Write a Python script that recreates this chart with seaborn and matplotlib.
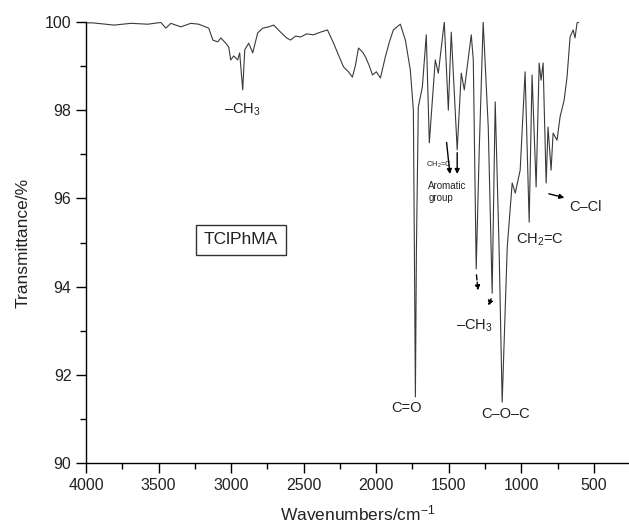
import numpy as np
import matplotlib
matplotlib.use("Agg")
import matplotlib.pyplot as plt
import seaborn as sns

# --- data ---
wavenumber = [3990, 3952, 3807, 3690, 3574, 3484, 3450, 3415, 3347, 3278,
              3223, 3154, 3126, 3092, 3071, 3037, 3016, 3003, 2982, 2955,
              2941, 2920, 2906, 2879, 2851, 2817, 2783, 2741, 2707, 2659,
              2618, 2590, 2556, 2521, 2480, 2432, 2384, 2336, 2294, 2260,
              2225, 2191, 2164, 2143, 2122, 2095, 2074, 2047, 2026, 1999,
              1971, 1937, 1909, 1882, 1834, 1799, 1765, 1744, 1737, 1730,
              1723, 1710, 1682, 1655, 1634, 1613, 1593, 1572, 1531, 1503,
              1483, 1442, 1414, 1393, 1345, 1331, 1311, 1290, 1263, 1228,
              1201, 1180, 1153, 1132, 1097, 1063, 1042, 1008, 974, 946,
              926, 898, 877, 864, 850, 829, 816, 795, 781, 754,
              733, 705, 685, 664, 643, 630, 616, 602]
transmittance = [99.98, 99.98, 99.93, 99.97, 99.95, 99.99, 99.86, 99.97, 99.89, 99.97,
                 99.95, 99.86, 99.59, 99.55, 99.64, 99.52, 99.43, 99.14, 99.23, 99.14,
                 99.30, 98.46, 99.37, 99.52, 99.30, 99.75, 99.86, 99.89, 99.93, 99.77,
                 99.64, 99.59, 99.68, 99.66, 99.73, 99.71, 99.77, 99.82, 99.52, 99.25,
                 98.98, 98.87, 98.75, 99.02, 99.41, 99.32, 99.21, 99.00, 98.80, 98.87,
                 98.73, 99.21, 99.55, 99.82, 99.95, 99.59, 98.91, 98.00, 94.83, 91.50,
                 94.83, 98.07, 98.53, 99.71, 97.26, 98.23, 99.14, 98.84, 100.0, 98.00,
                 99.77, 97.10, 98.84, 98.46, 99.71, 99.14, 94.40, 97.10, 100.0, 97.62,
                 93.85, 98.19, 94.83, 91.38, 94.90, 96.35, 96.12, 96.64, 98.87, 95.46,
                 98.80, 96.26, 99.07, 98.68, 99.07, 96.35, 97.62, 96.64, 97.48, 97.32,
                 97.85, 98.23, 98.75, 99.66, 99.82, 99.64, 99.98, 100.0]

x_ticks = [4000, 3500, 3000, 2500, 2000, 1500, 1000, 500]
y_ticks = [90, 92, 94, 96, 98, 100]

# band labels: (text, wavenumber, transmittance, fontsize)
band_labels = [
    ("\u2013CH$\\mathregular{_3}$", 2925, 98.02, 10.5),
    ("C=O", 1792, 91.25, 10.5),
    ("C\u2013O\u2013C", 1111, 91.1, 10.5),
    ("\u2013CH$\\mathregular{_3}$", 1325, 93.1, 10.5),
    ("CH$\\mathregular{_2}$=C", 871, 95.05, 10.5),
    ("C\u2013Cl", 561, 95.8, 10.5),
]

sns.set_style("ticks")
plt.rcParams["font.family"] = ["Liberation Sans", "DejaVu Sans"]
plt.rcParams["mathtext.fontset"] = "custom"
plt.rcParams["mathtext.rm"] = "Liberation Sans"
plt.rcParams["mathtext.it"] = "Liberation Sans:italic"

fig = plt.figure(figsize=(6.29, 5.30), dpi=100)
ax = fig.add_axes([86 / 629, 1 - 463 / 530, 1 - 86 / 629, 441 / 530])

sns.lineplot(x=wavenumber, y=transmittance, ax=ax, sort=False, estimator=None,
             color="#3a3a3a", linewidth=0.8)

ax.set_xlim(4000, 258)
ax.set_ylim(90, 100)
ax.set_xticks(x_ticks)
ax.set_yticks(y_ticks)
ax.set_xticks(np.arange(3750, 258, -500), minor=True)
ax.set_yticks([91, 93, 95, 97, 99], minor=True)
ax.tick_params(which="major", direction="out", length=7, width=1, labelsize=11.5,
               color="black", labelcolor="#222222")
ax.tick_params(which="minor", direction="out", length=4, width=1, color="black")
for s in ["top", "right"]:
    ax.spines[s].set_visible(False)
for s in ["left", "bottom"]:
    ax.spines[s].set_linewidth(1)
    ax.spines[s].set_color("black")

ax.set_xlabel("Wavenumbers/cm$\\mathregular{^{\u22121}}$", fontsize=12.5, labelpad=8, color="#222222")
ax.set_ylabel("Transmittance/%", fontsize=12.5, labelpad=10, color="#222222")

for txt, xv, yv, fs in band_labels:
    ax.text(xv, yv, txt, fontsize=fs, ha="center", va="center", color="#222222")

# small labels near the aromatic bands
ax.text(1660, 96.76, "CH$\\mathregular{_2}$=C", fontsize=5.5, ha="left", va="center", color="#222222")
ax.text(1641, 96.28, "Aromatic", fontsize=7, ha="left", va="center", color="#222222")
ax.text(1641, 96.02, "group", fontsize=7, ha="left", va="center", color="#222222")

# arrows
arr = dict(arrowstyle="-|>", color="black", lw=1, mutation_scale=7)
ax.annotate("", xy=(1490, 96.49), xytext=(1517, 97.33), arrowprops=arr)
ax.annotate("", xy=(1442, 96.49), xytext=(1442, 97.1), arrowprops=arr)
ax.annotate("", xy=(685, 96.0), xytext=(829, 96.12), arrowprops=arr)
arr_d = dict(arrowstyle="-|>", color="black", lw=1, mutation_scale=7, linestyle="--")
ax.annotate("", xy=(1297, 93.85), xytext=(1311, 94.33), arrowprops=arr_d)
ax.annotate("", xy=(1235, 93.51), xytext=(1201, 93.78), arrowprops=arr_d)

# sample name box
ax.text(2934, 95.06, "TClPhMA", fontsize=12.5, ha="center", va="center", color="#222222",
        bbox=dict(boxstyle="square,pad=0.45", fc="white", ec="#333333", lw=1))

fig.savefig("out.png", dpi=100)
